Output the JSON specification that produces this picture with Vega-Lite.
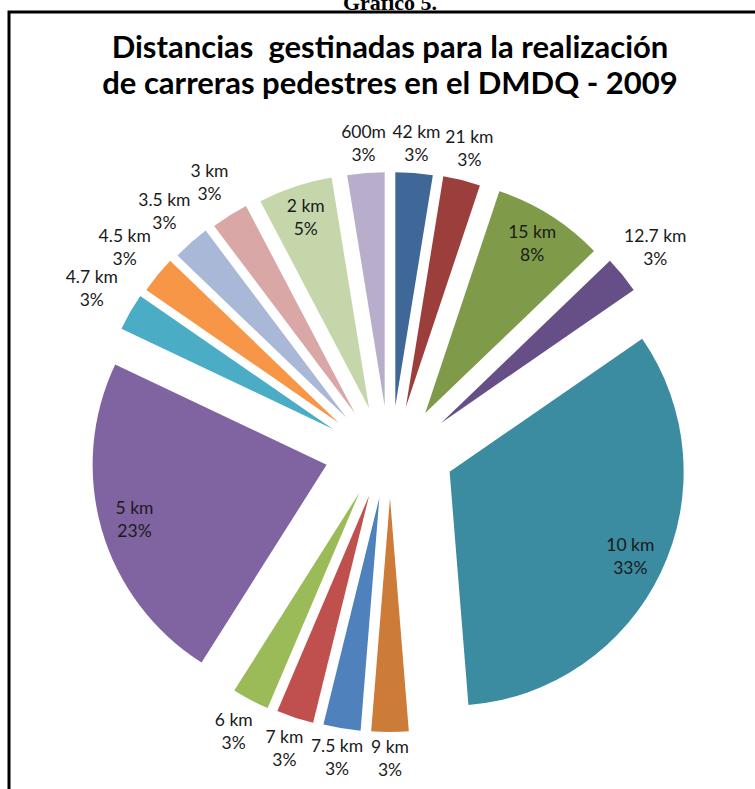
{
  "$schema": "https://vega.github.io/schema/vega-lite/v6.json",
  "autosize": {"type": "none"},
  "width": 762,
  "height": 880,
  "padding": {"left": 9, "top": 12, "right": -16, "bottom": -103},
  "background": "white",
  "config": {"view": {"stroke": null}},
  "title": {
    "text": "Gráfico 5.",
    "subtitle": ["Distancias \u00a0gestinadas para la realización", "de carreras pedestres en el DMDQ - 2009"],
    "anchor": "middle",
    "offset": -90,
    "font": "Liberation Serif",
    "fontSize": 22,
    "fontWeight": "bold",
    "color": "black",
    "subtitleFont": "Lato",
    "subtitleFontSize": 31,
    "subtitleFontWeight": "bold",
    "subtitleColor": "black",
    "subtitleLineHeight": 36,
    "subtitlePadding": 19
  },
  "datasets": {
    "slices": [
      {"i": 1, "name": "42 km", "n": 1, "pct": "3%"},
      {"i": 2, "name": "21 km", "n": 1, "pct": "3%"},
      {"i": 3, "name": "15 km", "n": 3, "pct": "8%"},
      {"i": 4, "name": "12.7 km", "n": 1, "pct": "3%"},
      {"i": 5, "name": "10 km", "n": 13, "pct": "33%"},
      {"i": 6, "name": "9 km", "n": 1, "pct": "3%"},
      {"i": 7, "name": "7.5 km", "n": 1, "pct": "3%"},
      {"i": 8, "name": "7 km", "n": 1, "pct": "3%"},
      {"i": 9, "name": "6 km", "n": 1, "pct": "3%"},
      {"i": 10, "name": "5 km", "n": 9, "pct": "23%"},
      {"i": 11, "name": "4.7 km", "n": 1, "pct": "3%"},
      {"i": 12, "name": "4.5 km", "n": 1, "pct": "3%"},
      {"i": 13, "name": "3.5 km", "n": 1, "pct": "3%"},
      {"i": 14, "name": "3 km", "n": 1, "pct": "3%"},
      {"i": 15, "name": "2 km", "n": 2, "pct": "5%"},
      {"i": 16, "name": "600m", "n": 1, "pct": "3%"}
    ],
    "frame": [{}]
  },
  "layer": [
    {
      "data": {"name": "frame"},
      "mark": {"type": "rect", "fill": "transparent", "stroke": "black", "strokeWidth": 3}
    },
    {
      "data": {"name": "slices"},
      "mark": {
        "type": "arc",
        "radius": 234,
        "xOffset": {"expr": "66*sin((scale('theta', datum.n_start) + scale('theta', datum.n_end))/2)"},
        "yOffset": {"expr": "-46*cos((scale('theta', datum.n_start) + scale('theta', datum.n_end))/2)"}
      },
      "encoding": {
        "theta": {"field": "n", "type": "quantitative", "stack": true},
        "order": {"field": "i", "type": "quantitative"},
        "color": {
          "field": "name",
          "type": "nominal",
          "scale": {
            "domain": ["42 km", "21 km", "15 km", "12.7 km", "10 km", "9 km", "7.5 km", "7 km", "6 km", "5 km", "4.7 km", "4.5 km", "3.5 km", "3 km", "2 km", "600m"],
            "range": ["#3F6797", "#9B3E3C", "#7F9A48", "#664F86", "#3B8BA1", "#CC7B38", "#4F81BD", "#C0504D", "#9BBB59", "#8064A2", "#4BACC6", "#F79646", "#A9B8D6", "#D8A7A6", "#C6D6AB", "#B8AECB"]
          },
          "legend": null
        }
      }
    },
    {
      "data": {"name": "slices"},
      "mark": {
        "type": "text",
        "radius": {"expr": "datum.n > 1 ? 200 : 261 + 20*abs(sin((scale('theta', datum.n_start) + scale('theta', datum.n_end))/2))"},
        "xOffset": {"expr": "66*sin((scale('theta', datum.n_start) + scale('theta', datum.n_end))/2)"},
        "yOffset": {"expr": "-46*cos((scale('theta', datum.n_start) + scale('theta', datum.n_end))/2)"},
        "dy": -11.5,
        "font": "Lato",
        "fontSize": 17.5,
        "color": "#1a1a1a"
      },
      "encoding": {
        "theta": {"field": "n", "type": "quantitative", "stack": true},
        "order": {"field": "i", "type": "quantitative"},
        "text": {"field": "name", "type": "nominal"}
      }
    },
    {
      "data": {"name": "slices"},
      "mark": {
        "type": "text",
        "radius": {"expr": "datum.n > 1 ? 200 : 261 + 20*abs(sin((scale('theta', datum.n_start) + scale('theta', datum.n_end))/2))"},
        "xOffset": {"expr": "66*sin((scale('theta', datum.n_start) + scale('theta', datum.n_end))/2)"},
        "yOffset": {"expr": "-46*cos((scale('theta', datum.n_start) + scale('theta', datum.n_end))/2)"},
        "dy": 11.5,
        "font": "Lato",
        "fontSize": 17.5,
        "color": "#1a1a1a"
      },
      "encoding": {
        "theta": {"field": "n", "type": "quantitative", "stack": true},
        "order": {"field": "i", "type": "quantitative"},
        "text": {"field": "pct", "type": "nominal"}
      }
    }
  ]
}
